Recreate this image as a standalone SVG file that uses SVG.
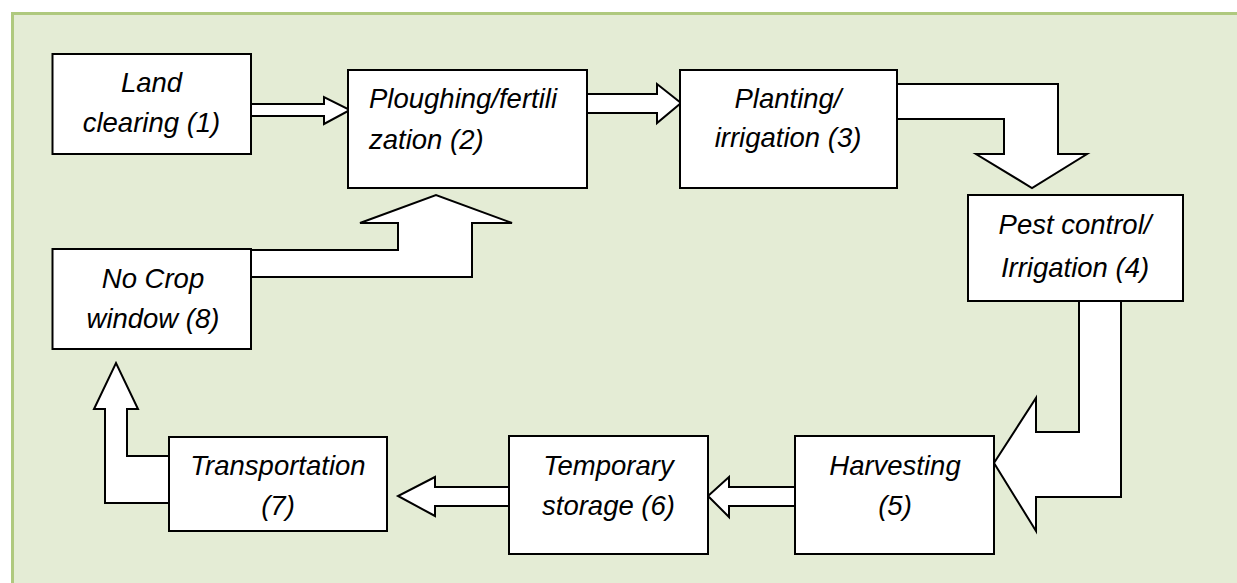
<svg xmlns="http://www.w3.org/2000/svg" width="1237" height="583" viewBox="0 0 1237 583">
<style>
.box{fill:#ffffff;stroke:#000000;stroke-width:2}
.arr{fill:#ffffff;stroke:#000000;stroke-width:2;stroke-linejoin:miter}
.t{font-family:"Liberation Sans",Arial,sans-serif;font-style:italic;font-size:27.5px;fill:#000000}
.c{text-anchor:middle}
</style>
<rect x="0" y="0" width="1237" height="583" fill="#ffffff"/>
<rect x="11" y="12" width="1226" height="571" fill="#e4ecd5"/>
<path d="M12.5 583 V13.5 H1237" fill="none" stroke="#afc97e" stroke-width="3"/>
<g id="connectors">
<polygon class="arr" points="251,104 324,104 324,97 350,110 324,124 324,116 251,116"/>
<polygon class="arr" points="587,94 657,94 657,84 681,103 657,123 657,113 587,113"/>
<polygon class="arr" points="897,84 1058,84 1058,154 1087,154 1032,188 976,154 1004,154 1004,119 897,119"/>
<polygon class="arr" points="1079,301 1121,301 1121,497 1036,497 1036,531 994,463 1036,398 1036,432 1079,432"/>
<polygon class="arr" points="795,487 729,487 729,477 708,496 729,517 729,506 795,506"/>
<polygon class="arr" points="509,487 435,487 435,477 398,496 435,516 435,506 509,506"/>
<polygon class="arr" points="169,456 127,456 127,409 138,409 116,363 94,409 105,409 105,503 169,503"/>
<polygon class="arr" points="251,250 398,250 398,223 360,223 436,195 512,223 472,223 472,277 251,277"/>
</g>
<g id="n1">
<rect class="box" x="52.5" y="54" width="198.5" height="100"/>
<text class="t c" x="151.5" y="92">Land</text>
<text class="t c" x="151.5" y="132">clearing (1)</text>
</g>
<g id="n2">
<rect class="box" x="348" y="70" width="239" height="118"/>
<text class="t" x="369" y="108">Ploughing/fertili</text>
<text class="t" x="369" y="149">zation (2)</text>
</g>
<g id="n3">
<rect class="box" x="680" y="70" width="217" height="118"/>
<text class="t c" x="788" y="108">Planting/</text>
<text class="t c" x="788" y="147">irrigation (3)</text>
</g>
<g id="n4">
<rect class="box" x="968" y="195" width="215" height="106"/>
<text class="t c" x="1075" y="234">Pest control/</text>
<text class="t c" x="1075" y="277">Irrigation (4)</text>
</g>
<g id="n5">
<rect class="box" x="795" y="436" width="199" height="118"/>
<text class="t c" x="895" y="475">Harvesting</text>
<text class="t c" x="895" y="515">(5)</text>
</g>
<g id="n6">
<rect class="box" x="509" y="436" width="199" height="118"/>
<text class="t c" x="608.5" y="475">Temporary</text>
<text class="t c" x="608.5" y="515">storage (6)</text>
</g>
<g id="n7">
<rect class="box" x="169" y="437" width="218" height="94"/>
<text class="t c" x="278" y="475">Transportation</text>
<text class="t c" x="278" y="515">(7)</text>
</g>
<g id="n8">
<rect class="box" x="52.5" y="249" width="198.5" height="100"/>
<text class="t c" x="153" y="288">No Crop</text>
<text class="t c" x="153" y="328">window (8)</text>
</g>
</svg>
